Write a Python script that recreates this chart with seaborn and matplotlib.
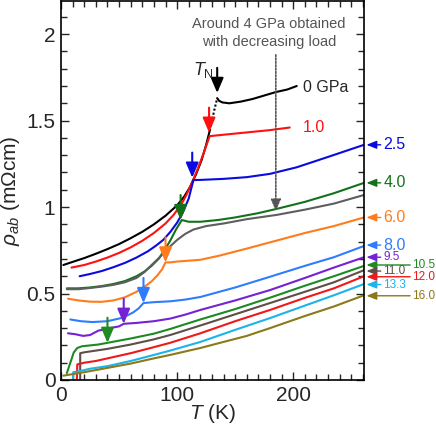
import matplotlib
matplotlib.use("Agg")
import matplotlib.pyplot as plt
import seaborn as sns
import pandas as pd

# resistivity curves rho_ab(T)
t_0low = [2, 10, 20, 30, 40, 50, 60, 70, 80, 90, 100, 106, 111, 116, 121, 125, 128]
r_0low = [0.665, 0.683, 0.705, 0.73, 0.757, 0.786, 0.82, 0.857, 0.90, 0.95, 1.01, 1.06, 1.115, 1.185, 1.27, 1.36, 1.44]
t_0dot = [128, 130, 132, 134.5]
r_0dot = [1.44, 1.50, 1.56, 1.63]
t_0high = [134.5, 136, 139, 145, 155, 165, 175, 185, 195, 203]
r_0high = [1.63, 1.615, 1.605, 1.60, 1.61, 1.625, 1.645, 1.665, 1.68, 1.70]

t_10 = [9, 20, 30, 40, 50, 60, 70, 80, 90, 97, 104, 108, 113, 118, 123, 128, 135, 150, 165, 180, 197]
r_10 = [0.65, 0.665, 0.685, 0.708, 0.735, 0.767, 0.805, 0.85, 0.905, 0.955, 1.02, 1.07, 1.145, 1.225, 1.315, 1.41, 1.415, 1.425, 1.435, 1.445, 1.46]

t_25 = [16, 25, 35, 45, 55, 65, 75, 82, 88, 94, 100, 105, 110, 114, 120, 140, 160, 180, 203, 230, 261]
r_25 = [0.60, 0.613, 0.63, 0.652, 0.677, 0.708, 0.745, 0.778, 0.81, 0.855, 0.91, 0.97, 1.05, 1.156, 1.157, 1.163, 1.173, 1.192, 1.23, 1.29, 1.36]

t_40 = [5, 15, 25, 35, 45, 55, 65, 72, 78, 84, 89, 94, 99, 104, 110, 120, 135, 150, 170, 186, 210, 235, 261]
r_40 = [0.53, 0.53, 0.535, 0.543, 0.555, 0.572, 0.60, 0.628, 0.66, 0.70, 0.75, 0.805, 0.87, 0.925, 0.915, 0.915, 0.925, 0.94, 0.965, 0.99, 1.03, 1.08, 1.14]

t_4dec = [5, 15, 25, 35, 45, 55, 65, 72, 78, 85, 92, 100, 107, 114, 125, 140, 160, 186, 210, 235, 261]
r_4dec = [0.525, 0.525, 0.532, 0.54, 0.55, 0.565, 0.59, 0.625, 0.665, 0.71, 0.76, 0.81, 0.845, 0.87, 0.89, 0.905, 0.93, 0.955, 0.985, 1.02, 1.07]

t_60 = [6, 15, 25, 35, 45, 55, 65, 72, 78, 83, 87, 90, 94, 100, 110, 120, 137, 160, 185, 210, 235, 261]
r_60 = [0.47, 0.46, 0.453, 0.452, 0.46, 0.478, 0.51, 0.54, 0.57, 0.605, 0.64, 0.68, 0.68, 0.685, 0.69, 0.695, 0.72, 0.76, 0.805, 0.85, 0.89, 0.94]

t_80 = [8, 17, 27, 40, 53, 62, 67, 71, 80, 94, 107, 120, 150, 180, 210, 235, 261]
r_80 = [0.35, 0.34, 0.335, 0.34, 0.36, 0.39, 0.415, 0.445, 0.45, 0.455, 0.465, 0.48, 0.535, 0.597, 0.66, 0.71, 0.775]

t_95 = [6, 12, 19, 25, 32, 42, 50, 54, 65, 80, 94, 107, 120, 150, 180, 210, 235, 261]
r_95 = [0.27, 0.265, 0.255, 0.26, 0.285, 0.30, 0.31, 0.325, 0.33, 0.34, 0.355, 0.378, 0.405, 0.46, 0.52, 0.59, 0.65, 0.71]

t_105 = [5, 8, 11, 14, 18, 25, 32, 40, 60, 80, 94, 120, 150, 180, 210, 235, 261]
r_105 = [0.04, 0.10, 0.16, 0.185, 0.195, 0.20, 0.205, 0.215, 0.24, 0.268, 0.295, 0.35, 0.41, 0.476, 0.545, 0.60, 0.66]

t_110 = [16.5, 16.5, 20, 30, 40, 60, 80, 94, 120, 150, 180, 210, 235, 261]
r_110 = [0.0, 0.155, 0.16, 0.17, 0.18, 0.205, 0.235, 0.26, 0.315, 0.38, 0.445, 0.51, 0.565, 0.635]

t_120 = [13.5, 14, 20, 30, 40, 60, 80, 94, 120, 150, 180, 210, 235, 261]
r_120 = [-0.02, 0.09, 0.10, 0.11, 0.125, 0.155, 0.19, 0.215, 0.27, 0.34, 0.405, 0.475, 0.53, 0.60]

t_133 = [10, 10.5, 15, 25, 40, 60, 80, 94, 120, 150, 180, 210, 235, 261]
r_133 = [-0.02, 0.045, 0.05, 0.065, 0.08, 0.11, 0.145, 0.17, 0.22, 0.29, 0.358, 0.43, 0.49, 0.555]

t_160 = [2, 20, 40, 60, 80, 94, 120, 137, 160, 180, 210, 235, 261]
r_160 = [0.025, 0.045, 0.07, 0.095, 0.125, 0.145, 0.185, 0.215, 0.255, 0.30, 0.37, 0.425, 0.49]

curves = {
    "0 low": (t_0low, r_0low), "0 high": (t_0high, r_0high),
    "1.0": (t_10, r_10), "2.5": (t_25, r_25), "4.0": (t_40, r_40),
    "4 dec": (t_4dec, r_4dec), "6.0": (t_60, r_60), "8.0": (t_80, r_80),
    "9.5": (t_95, r_95), "10.5": (t_105, r_105), "11.0": (t_110, r_110),
    "12.0": (t_120, r_120), "13.3": (t_133, r_133), "16.0": (t_160, r_160),
}
colors = {
    "0 low": "#000000", "0 high": "#000000", "1.0": "#ff1010", "2.5": "#0a0ae0",
    "4.0": "#12721a", "4 dec": "#5e5e5e", "6.0": "#ff7b1c", "8.0": "#2f7cff",
    "9.5": "#7422d4", "10.5": "#1d8a22", "11.0": "#5e4e48", "12.0": "#f01818",
    "13.3": "#1cb2ee", "16.0": "#8a7a18",
}

rows = []
for name, (ts, rs) in curves.items():
    for t, r in zip(ts, rs):
        rows.append((name, t, r))
df = pd.DataFrame(rows, columns=["curve", "T", "rho"])
df_dot = pd.DataFrame({"T": t_0dot, "rho": r_0dot})

# transition arrows (T, tip rho, colour key)
tn_marks = [(134.5, 1.66, "0 low"), (127.5, 1.43, "1.0"), (113, 1.17, "2.5"),
            (103, 0.925, "4.0"), (90, 0.68, "6.0"), (71, 0.445, "8.0"),
            (54, 0.325, "9.5"), (40, 0.215, "10.5")]

# right-hand labels: (label, rho at right edge, long arrow?, fontsize)
right_labels = [("2.5", 1.36, False, 11.5), ("4.0", 1.14, False, 11.5),
                ("6.0", 0.94, False, 11.5), ("8.0", 0.78, False, 11.5),
                ("9.5", 0.71, False, 8.5), ("10.5", 0.665, True, 8.5),
                ("11.0", 0.63, False, 8.5), ("12.0", 0.597, True, 8.5),
                ("13.3", 0.552, False, 8.5), ("16.0", 0.487, True, 8.5)]

sns.set_theme(style="ticks")
plt.rcParams["font.family"] = ["Liberation Sans", "DejaVu Sans"]
plt.rcParams["mathtext.fontset"] = "custom"
plt.rcParams["mathtext.rm"] = "Liberation Sans"
plt.rcParams["mathtext.it"] = "Liberation Sans:italic"

fig = plt.figure(figsize=(4.36, 4.26), dpi=100)
ax = fig.add_axes([0.140, 0.108, 0.695, 0.889])

sns.lineplot(data=df, x="T", y="rho", hue="curve", palette=colors,
             estimator=None, sort=False, legend=False, lw=1.5, ax=ax)
sns.lineplot(data=df_dot, x="T", y="rho", color="black", estimator=None,
             sort=False, lw=1.5, linestyle=(0, (1, 1)), ax=ax)

for t, r, key in tn_marks:
    ax.annotate("", xy=(t, r), xytext=(t, r + 0.145),
                arrowprops=dict(arrowstyle="-|>,head_length=0.75,head_width=0.32",
                                color=colors[key], lw=1.5, shrinkA=0, shrinkB=0))

for lab, v, long, fs in right_labels:
    col = colors[lab]
    tail = 1.152 if long else 1.055
    ax.annotate("", xy=(1.008, v), xycoords=("axes fraction", "data"),
                xytext=(tail, v), textcoords=("axes fraction", "data"),
                arrowprops=dict(arrowstyle="-|>,head_length=0.5,head_width=0.2",
                                color=col, lw=1.0, shrinkA=0, shrinkB=0),
                annotation_clip=False)
    ax.text(tail + 0.008, v, lab, transform=ax.get_yaxis_transform(),
            color=col, fontsize=fs, ha="left", va="center", clip_on=False)

# dotted arrow for the decreasing-load curve
ax.annotate("", xy=(185, 0.975), xytext=(185, 1.88),
            arrowprops=dict(arrowstyle="-|>,head_length=0.6,head_width=0.25",
                            color="#555555", lw=1.2, linestyle=(0, (1, 1)),
                            shrinkA=0, shrinkB=0))
ax.text(179, 2.005, "Around 4 GPa obtained\nwith decreasing load", color="#555555",
        fontsize=10.5, ha="center", va="center", linespacing=1.35)
ax.text(132, 1.79, r"$T_\mathrm{N}$", fontsize=13, ha="right", va="center")
ax.text(208, 1.694, "0 GPa", fontsize=11.5, ha="left", va="center")
ax.text(208, 1.46, "1.0", fontsize=11.5, ha="left", va="center", color=colors["1.0"])

ax.set_xlim(0, 261)
ax.set_ylim(0, 2.19)
ax.set_xticks([0, 100, 200])
ax.set_xticks(range(0, 261, 10), minor=True)
ax.set_yticks([0, 0.5, 1, 1.5, 2])
ax.set_yticklabels(["0", "0.5", "1", "1.5", "2"])
ax.set_yticks([i / 10 for i in range(22)], minor=True)
ax.tick_params(which="both", direction="in", top=True, right=True, labelsize=15,
               width=1.0, pad=4)
ax.tick_params(which="major", length=6)
ax.tick_params(which="minor", length=4)
for s in ax.spines.values():
    s.set_linewidth(1.2)
    s.set_color("black")

ax.set_xlabel(r"$T$ (K)", fontsize=15, labelpad=-2)
ax.set_ylabel(r"$\rho_{ab}$ (mΩcm)", fontsize=15, labelpad=3)

fig.savefig("out.png", dpi=100)
